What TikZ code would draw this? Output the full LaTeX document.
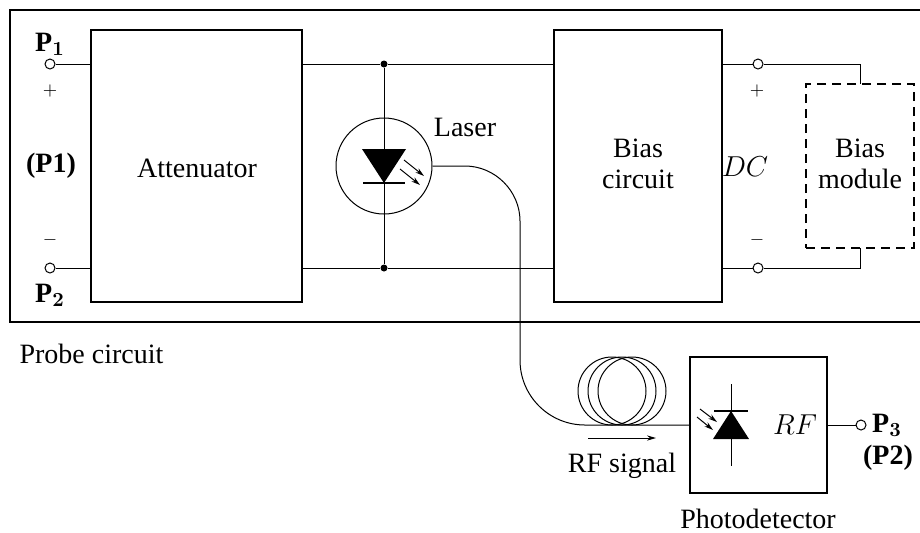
\documentclass[tikz,border=0pt]{standalone}
\usepackage{amsmath}
\usepackage[no-math]{fontspec}
\setmainfont{Liberation Serif}
\usetikzlibrary{arrows.meta,calc}
\begin{document}
\begin{tikzpicture}[x=0.5pt,y=-0.5pt,>={Stealth[length=4.5pt,width=2.6pt]},line width=0.5pt,
  font=\fontsize{14}{15.5}\selectfont,
  block/.style={draw,line width=0.75pt,inner sep=0pt,align=center,outer sep=0pt},
  term/.style={draw,circle,inner sep=0pt,minimum size=5pt,fill=white},
  dot/.style={fill,circle,inner sep=0pt,minimum size=3.5pt},
  bar/.style={line width=1pt},
  probe/.style={line width=1pt},
  lbl/.style={inner sep=0pt},
  sign/.style={inner sep=0pt,font=\fontsize{9}{10}\selectfont},
  bold/.style={inner sep=0pt,font=\fontsize{14}{15.5}\bfseries,execute at begin node=\boldmath}]
  \useasboundingbox (0,0) rectangle (920,532);
  % probe frame, cut by the right edge
  \draw[probe] (920,10)--(10,10)--(10,322)--(920,322);
  \node[block,minimum width=105.5pt,minimum height=136pt](atten) at (196.5,166){};
  \node[block,minimum width=84pt,minimum height=136pt](bias) at (638,166){};
  \node[block,dashed,line width=1.2pt,dash pattern=on 4.5pt off 3pt,minimum width=54pt,minimum height=82pt](module) at (860,166){};
  \node[block,line width=1pt,minimum width=68.5pt,minimum height=68pt](pd) at (758.5,425){};
  \node[lbl](aname) at (197,168){Attenuator};
  \node[lbl,align=center](bname) at (638,164){Bias\\circuit};
  \node[lbl,align=center](mname) at (860,164){Bias\\module};
  \node[term](t1) at (50,64){}; \node[term](t2) at (50,268){};
  \node[term](t3) at (758,64){}; \node[term](t4) at (758,268){};
  \node[term](t5) at (861,425){};
  \node[dot](d1) at (384,64){}; \node[dot](d2) at (384,268){};
  \node[draw,circle,inner sep=0pt,minimum size=48pt](laser) at (384,166){};
  % labels
  \node[bold](p1) at (50,44){P$_{\mathbf{1}}$};
  \node[bold](p2) at (50,295){P$_{\mathbf{2}}$};
  \node[bold](p1b) at (51,166){(P1)};
  \node[bold](p3) at (887,425){P$_{\mathbf{3}}$};
  \node[bold](p2b) at (888,458){(P2)};
  \node[sign](plus1) at (50,91){$+$}; \node[sign](minus1) at (50,240){$-$};
  \node[sign](plus2) at (757,91){$+$}; \node[sign](minus2) at (757,240){$-$};
  \node[lbl](dc) at (745,167){$DC$};
  \node[lbl](rf) at (795,425){$RF$};
  \node[lbl](lname) at (465,127){Laser};
  \node[lbl,anchor=west](pname) at (19,354){Probe circuit};
  \node[lbl](sname) at (622,466){RF signal};
  \node[lbl](dname) at (758,519){Photodetector};
  % wires
  \draw (t1)--(atten.west|-t1); \draw (t2)--(atten.west|-t2);
  \draw (atten.east|-d1)--(d1)--(bias.west|-d1);
  \draw (atten.east|-d2)--(d2)--(bias.west|-d2);
  \draw (bias.east|-t3)--(t3)-|(module.north);
  \draw (bias.east|-t4)--(t4)-|(module.south);
  \draw (d1)--(d2);
  \draw (pd.east)--(t5);
  % laser diode
  \fill (362,149)--(406,149)--(384,183)--cycle;
  \draw[bar] (363,183)--(405,183);
  \draw[->] (404,160)--(424,176);
  \draw[->] (400,169)--(420,185);
  % fibre and coil
  \draw (laser.east)--(465,166) .. controls (495,166) and (520,191) .. (520,221)
    --(520,360) .. controls (520,396) and (549,425) .. (585,425)--(pd.west);
  \foreach \i in {612,622,632}\draw (\i,391) circle[radius=34];
  \draw[->] (588,438)--(656,438);
  % photodiode
  \draw (731,384)--(731,466);
  \fill (731,411)--(749,439)--(713,439)--cycle;
  \draw[bar] (714,411)--(748,411);
  \draw[->] (700,409)--(717,422);
  \draw[->] (697,417)--(713,430);
\end{tikzpicture}
\end{document}
